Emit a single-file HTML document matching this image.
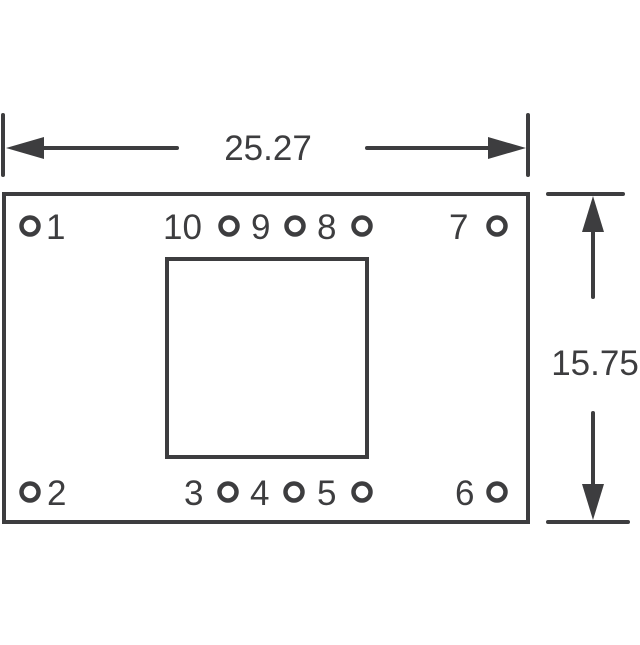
<!DOCTYPE html>
<html><head><style>body{margin:0;background:#fff}</style></head><body>
<svg width="640" height="640" viewBox="0 0 640 640" xmlns="http://www.w3.org/2000/svg">
<g stroke="#3d3d3f" fill="none" stroke-linecap="round">
<rect x="4" y="194" width="524" height="328" stroke-width="4"/>
<rect x="167" y="259" width="200" height="198" stroke-width="4"/>
<line x1="3" y1="115" x2="3" y2="175" stroke-width="4"/>
<line x1="528" y1="115" x2="528" y2="175" stroke-width="4"/>
<line x1="30" y1="148" x2="177" y2="148" stroke-width="4"/>
<line x1="367" y1="148" x2="500" y2="148" stroke-width="4"/>
<line x1="548" y1="194" x2="623" y2="194" stroke-width="4"/>
<line x1="548" y1="522" x2="628" y2="522" stroke-width="4"/>
<line x1="593" y1="225" x2="593" y2="297" stroke-width="4"/>
<line x1="593" y1="413" x2="593" y2="495" stroke-width="4"/>
<g stroke-width="4.5">
<circle cx="30" cy="226" r="8.5"/><circle cx="229" cy="226" r="8.5"/><circle cx="295" cy="226" r="8.5"/><circle cx="362" cy="226" r="8.5"/><circle cx="497" cy="226" r="8.5"/>
<circle cx="30" cy="492" r="8.5"/><circle cx="228" cy="492" r="8.5"/><circle cx="294" cy="492" r="8.5"/><circle cx="362" cy="492" r="8.5"/><circle cx="497" cy="492" r="8.5"/>
</g>
</g>
<g fill="#3d3d3f">
<polygon points="6,148 44,137 44,159"/>
<polygon points="526,148 488,137 488,159"/>
<polygon points="593,196 582,232 604,232"/>
<polygon points="593,520 582,484 604,484"/>
</g>
<g fill="#3d3d3f" font-family="Liberation Sans, sans-serif" font-size="35">
<text x="268" y="160" text-anchor="middle">25.27</text>
<text x="595" y="375" text-anchor="middle">15.75</text>
<text x="46" y="239">1</text>
<text x="163" y="239">10</text>
<text x="251" y="239">9</text>
<text x="317" y="239">8</text>
<text x="449" y="239">7</text>
<text x="47" y="505">2</text>
<text x="184" y="505">3</text>
<text x="250" y="505">4</text>
<text x="317" y="505">5</text>
<text x="455" y="505">6</text>
</g>
</svg>
</body></html>
